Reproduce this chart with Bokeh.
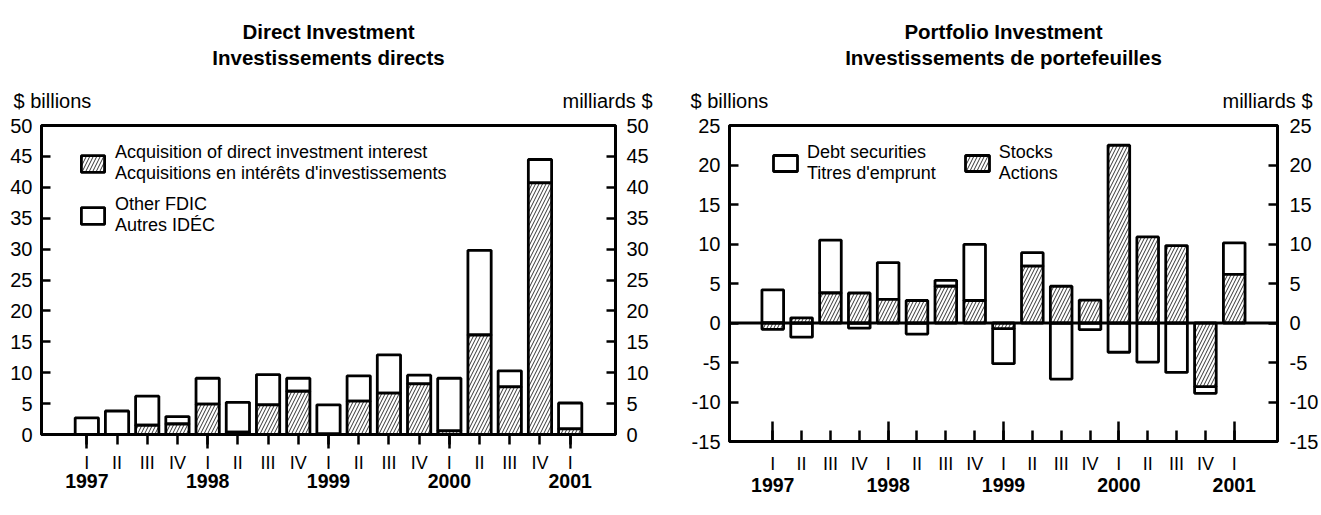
from bokeh.plotting import figure
from bokeh.models import (ColumnDataSource, FixedTicker, LinearAxis, Legend,
                          LegendItem, Span, Range1d)
from bokeh.core.properties import value
from bokeh.layouts import row, column
from bokeh.embed import file_html
from bokeh.resources import INLINE

FONT = "Liberation Sans"

# ---------------- data ----------------
quarters = ["I", "II", "III", "IV", "I", "II", "III", "IV", "I", "II", "III", "IV",
            "I", "II", "III", "IV", "I"]
years = ["1997", "1998", "1999", "2000", "2001"]

# Direct investment ($ billions)
acquisitions = [0.0, 0.0, 1.5, 1.7, 4.9, 0.4, 4.8, 7.0, 0.1, 5.4, 6.7, 8.2,
                0.6, 16.1, 7.7, 40.7, 0.9]
other_fdic = [2.7, 3.8, 4.7, 1.2, 4.2, 4.8, 4.9, 2.1, 4.7, 4.1, 6.2, 1.4,
              8.5, 13.7, 2.6, 3.8, 4.2]

# Portfolio investment ($ billions)
stocks = [-0.8, 0.65, 3.8, 3.8, 3.0, 2.85, 4.65, 2.85, -0.7, 7.2, 4.65, 2.9,
          22.5, 10.9, 9.8, -8.05, 6.15]
debt = [4.2, -1.8, 6.7, -0.65, 4.65, -1.4, 0.75, 7.1, -4.45, 1.7, -7.1, -0.85,
        -3.7, -4.95, -6.25, -0.85, 4.0]

titles_left = ["Direct Investment", "Investissements directs"]
titles_right = ["Portfolio Investment", "Investissements de portefeuilles"]
unit_en = "$ billions"
unit_fr = "milliards $"

xpos = list(range(len(quarters)))
year_pos = [i for i, q in enumerate(quarters) if q == "I"]

LINE_W = 2.8
PAGE_W = 1321
HEAD_H = 115
TOP_B = 10
CHART_H = 395


def make_fig(ymin, ymax, width, bl, br, frame_h, yticks, rstand):
    p = figure(x_range=Range1d(-1.5, 17.5), y_range=Range1d(ymin, ymax),
               width=width, height=CHART_H,
               min_border_left=bl, min_border_right=br, min_border_top=TOP_B,
               min_border_bottom=CHART_H - TOP_B - frame_h,
               x_axis_location=None, y_axis_location=None,
               frame_align=False,
               output_backend="svg", toolbar_location=None)
    p.grid.visible = False
    p.outline_line_color = "black"
    p.outline_line_width = 3
    p.background_fill_color = "white"
    p.border_fill_color = "white"
    for side, standoff in (("left", 9), ("right", rstand)):
        ax = LinearAxis(ticker=FixedTicker(ticks=yticks, minor_ticks=[]),
                        major_label_overrides={t: str(t) for t in yticks},
                        major_tick_in=9, major_tick_out=0,
                        major_tick_line_width=2.5, axis_line_width=3,
                        minor_tick_line_color=None,
                        major_label_standoff=standoff,
                        major_label_text_font=FONT,
                        major_label_text_font_size="20px",
                        major_label_text_color="black")
        p.add_layout(ax, side)
    return p


def add_x_axes(p, tick_in, tick_out, minor_in, minor_out, roman_standoff, year_standoff):
    xa = LinearAxis(ticker=FixedTicker(ticks=xpos, minor_ticks=year_pos),
                    major_label_overrides={i: q for i, q in enumerate(quarters)},
                    major_tick_in=tick_in, major_tick_out=tick_out,
                    minor_tick_in=minor_in, minor_tick_out=minor_out,
                    major_tick_line_width=2.5, minor_tick_line_width=2.5,
                    axis_line_width=3,
                    major_label_standoff=roman_standoff,
                    major_label_text_font=FONT, major_label_text_font_size="18px",
                    major_label_text_color="black")
    p.add_layout(xa, "below")
    xc = LinearAxis(ticker=FixedTicker(ticks=year_pos, minor_ticks=[]),
                    major_label_overrides={pos: y for pos, y in zip(year_pos, years)},
                    axis_line_color=None, major_tick_line_color=None,
                    minor_tick_line_color=None, major_tick_in=0, major_tick_out=0,
                    major_label_standoff=year_standoff,
                    major_label_text_font=FONT, major_label_text_font_size="19.5px",
                    major_label_text_font_style="bold",
                    major_label_text_color="black")
    p.add_layout(xc, "below")


def make_legend(items, location, orientation, gw, gh, standoff, spacing):
    return Legend(items=items, location=location, orientation=orientation,
                  glyph_width=gw, glyph_height=gh, label_standoff=standoff,
                  spacing=spacing, padding=0, margin=0,
                  border_line_color=None, background_fill_alpha=0,
                  label_text_font=FONT, label_text_font_size="18px",
                  label_text_color="black", label_text_line_height=1.25)


# ---------------- Direct Investment ----------------
W1 = 685
p1 = make_fig(0, 50, W1, 41, 70, 309, list(range(0, 51, 5)), 11)
add_x_axes(p1, 0, 10, 0, 14, 4, -2)

src1 = ColumnDataSource(dict(
    x=xpos,
    acq_top=acquisitions,
    oth_bot=acquisitions,
    oth_top=[a + o for a, o in zip(acquisitions, other_fdic)],
))
r_oth = p1.vbar(x="x", width=0.77, bottom="oth_bot", top="oth_top", source=src1,
                fill_color="white", line_color="black", line_width=LINE_W)
r_acq = p1.vbar(x="x", width=0.77, bottom=0, top="acq_top", source=src1,
                fill_color="white", line_color="black", line_width=LINE_W,
                hatch_pattern="/", hatch_color="black", hatch_scale=7,
                hatch_weight=0.8)

p1.add_layout(make_legend([
    LegendItem(label="Acquisition of direct investment interest\nAcquisitions en intérêts d'investissements",
               renderers=[r_acq]),
    LegendItem(label="Other FDIC\nAutres IDÉC", renderers=[r_oth]),
], (37, 198), "vertical", 29, 21, 8, 10))

# ---------------- Portfolio Investment ----------------
W2 = PAGE_W - W1
p2 = make_fig(-15, 25, W2, 44, 44, 316, list(range(-15, 26, 5)), 12)
add_x_axes(p2, 11, 0, 20, 0, 12, 1)

st_bot, st_top, d_bot, d_top = [], [], [], []
for s, d in zip(stocks, debt):
    st_bot.append(min(s, 0))
    st_top.append(max(s, 0))
    if d >= 0:
        b = max(s, 0)
        d_bot.append(b)
        d_top.append(b + d)
    else:
        t = min(s, 0)
        d_top.append(t)
        d_bot.append(t + d)

src2 = ColumnDataSource(dict(x=xpos, st_bot=st_bot, st_top=st_top,
                             d_bot=d_bot, d_top=d_top))
r_debt = p2.vbar(x="x", width=0.75, bottom="d_bot", top="d_top", source=src2,
                 fill_color="white", line_color="black", line_width=LINE_W)
r_st = p2.vbar(x="x", width=0.75, bottom="st_bot", top="st_top", source=src2,
               fill_color="white", line_color="black", line_width=LINE_W,
               hatch_pattern="/", hatch_color="black", hatch_scale=7,
               hatch_weight=0.8)
p2.add_layout(Span(location=0, dimension="width", line_color="black", line_width=3))

p2.add_layout(make_legend([
    LegendItem(label="Debt securities\nTitres d'emprunt", renderers=[r_debt]),
    LegendItem(label="Stocks\nActions", renderers=[r_st]),
], (41, 257), "horizontal", 30, 20, 7, 26))

# ---------------- header (titles and units), page pixel coordinates ----------------
h = figure(width=PAGE_W, height=HEAD_H, x_range=Range1d(0, PAGE_W),
           y_range=Range1d(HEAD_H, 0), min_border=0, frame_align=False,
           x_axis_location=None, y_axis_location=None,
           output_backend="svg", toolbar_location=None)
h.grid.visible = False
h.outline_line_color = None
h.background_fill_color = "white"
h.border_fill_color = "white"
h.text(x=[328, 328, 1003, 1003], y=[30.7, 56.5, 30.7, 56.5],
       text=titles_left + titles_right,
       text_align="center", text_baseline="alphabetic",
       text_font=value(FONT), text_font_style="bold",
       text_font_size="20.5px", text_color="black")
h.text(x=[13, 690], y=[100, 100], text=[unit_en, unit_en], text_align="left",
       text_baseline="alphabetic", text_font=value(FONT),
       text_font_size="20px", text_color="black")
h.text(x=[652, 1312], y=[100, 100], text=[unit_fr, unit_fr], text_align="right",
       text_baseline="alphabetic", text_font=value(FONT),
       text_font_size="20px", text_color="black")

layout = column(h, row(p1, p2))
open("out.html", "w").write(file_html(layout, INLINE))
